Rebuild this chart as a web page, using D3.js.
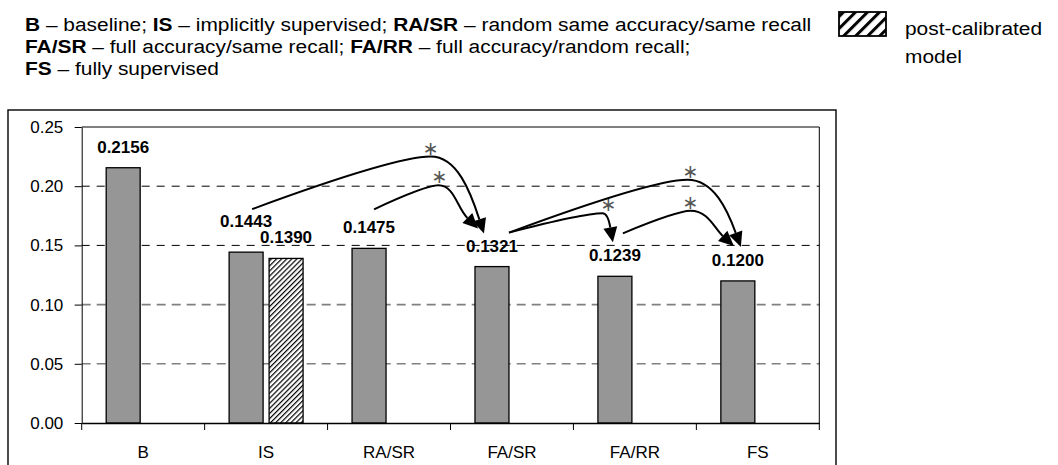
<!DOCTYPE html>
<html>
<head>
<meta charset="utf-8">
<script src="https://cdn.jsdelivr.net/npm/d3@7"></script>
<style>
  body { margin: 0; background: #fff; }
  svg { display: block; font-family: "Liberation Sans", Arial, Helvetica, sans-serif; }
</style>
</head>
<body>
<svg id="chart" width="1058" height="465"></svg>
<script>
// ---- data ----
const categories = ["B", "IS", "RA/SR", "FA/SR", "FA/RR", "FS"];
const seriesKeys = ["model", "calibrated"];
const modelValues = [0.2156, 0.1443, 0.1475, 0.1321, 0.1239, 0.1200];
const calibratedValues = [null, 0.1390, null, null, null, null];
const yTicks = [0.00, 0.05, 0.10, 0.15, 0.20, 0.25];
// statistically significant differences (marked with an asterisk)
const significantPairs = [
  ["IS", "FA/SR"],
  ["RA/SR", "FA/SR"],
  ["FA/SR", "FA/RR"],
  ["FA/SR", "FS"],
  ["FA/RR", "FS"]
];
const keyLines = [
  [["B", true], [" \u2013 baseline; ", false], ["IS", true], [" \u2013 implicitly supervised; ", false], ["RA/SR", true], [" \u2013 random same accuracy/same recall", false]],
  [["FA/SR", true], [" \u2013 full accuracy/same recall; ", false], ["FA/RR", true], [" \u2013 full accuracy/random recall;", false]],
  [["FS", true], [" \u2013 fully supervised", false]]
];
const legendLabel = ["post-calibrated", "model"];

// ---- layout ----
const plot = { left: 81.7, right: 819.3, top: 127, bottom: 423 };
const svg = d3.select("#chart");

const x = d3.scaleBand(categories, [plot.left, plot.right]);
const xs = d3.scaleBand(seriesKeys, [0, x.bandwidth()]).paddingInner(0.15).paddingOuter(0.6125);
const y = d3.scaleLinear([0, 0.25], [plot.bottom, plot.top]);

// hatch patterns
const defs = svg.append("defs");
defs.append("pattern")
  .attr("id", "hatch").attr("patternUnits", "userSpaceOnUse")
  .attr("width", 3.6).attr("height", 3.6).attr("patternTransform", "rotate(45)")
  .call(p => {
    p.append("rect").attr("width", 3.6).attr("height", 3.6).attr("fill", "#fff");
    p.append("line").attr("x1", 0.6).attr("y1", 0).attr("x2", 0.6).attr("y2", 3.6)
      .attr("stroke", "#000").attr("stroke-width", 1.2);
  });
defs.append("pattern")
  .attr("id", "hatchBig").attr("patternUnits", "userSpaceOnUse")
  .attr("width", 8.5).attr("height", 8.5).attr("patternTransform", "rotate(45)")
  .call(p => {
    p.append("rect").attr("width", 8.5).attr("height", 8.5).attr("fill", "#fff");
    p.append("line").attr("x1", 1.5).attr("y1", 0).attr("x2", 1.5).attr("y2", 8.5)
      .attr("stroke", "#000").attr("stroke-width", 3);
  });

// outer chart frame
svg.append("rect")
  .attr("x", 8).attr("y", 110).attr("width", 828).attr("height", 400)
  .attr("fill", "none").attr("stroke", "#000").attr("stroke-width", 1.4);

// key text
const key = svg.append("g").attr("font-size", 19).attr("fill", "#000")
  .attr("transform", "translate(25,0) scale(1.1,1)");
keyLines.forEach((line, i) => {
  const t = key.append("text").attr("x", 0).attr("y", 30.7 + i * 22.3);
  line.forEach(([s, b]) => t.append("tspan").attr("font-weight", b ? "bold" : "normal").text(s));
});

// legend for the hatched series
svg.append("rect").attr("x", 839).attr("y", 12).attr("width", 47).attr("height", 24)
  .attr("fill", "url(#hatchBig)").attr("stroke", "#000").attr("stroke-width", 1.8);
svg.append("g").attr("font-size", 19).attr("transform", "translate(905,0) scale(1.1,1)")
  .selectAll("text").data(legendLabel).join("text")
  .attr("x", 0).attr("y", (d, i) => 35 + i * 28).text(d => d);

// gridlines
const grid = svg.append("g");
yTicks.filter(v => v > 0 && v < 0.25).forEach(v => {
  const strong = v >= 0.15;
  grid.append("line")
    .attr("x1", plot.left).attr("x2", plot.right)
    .attr("y1", y(v)).attr("y2", y(v))
    .attr("stroke", strong ? "#000" : "#808080")
    .attr("stroke-width", strong ? 1 : 1.6)
    .attr("stroke-dasharray", strong ? "8,7" : "9,6");
});

// plot area top and right border
svg.append("path")
  .attr("d", `M${plot.left},${plot.top}H${plot.right}V${plot.bottom}`)
  .attr("fill", "none").attr("stroke", "#000").attr("stroke-width", 1);

// bars
const rows = categories.map((c, i) => ({ cat: c, model: modelValues[i], calibrated: calibratedValues[i] }));
const barData = [];
rows.forEach(r => seriesKeys.forEach(k => { if (r[k] != null) barData.push({ cat: r.cat, key: k, value: r[k], row: r }); }));

svg.append("g").selectAll("rect").data(barData).join("rect")
  .attr("x", d => x(d.cat) + xs(d.key))
  .attr("width", xs.bandwidth())
  .attr("y", d => y(d.value))
  .attr("height", d => y(0) - y(d.value))
  .attr("fill", d => d.key === "model" ? "#969696" : "url(#hatch)")
  .attr("stroke", "#000").attr("stroke-width", 1.3);

// y axis
const yAxis = svg.append("g").attr("transform", `translate(${plot.left},0)`)
  .call(d3.axisLeft(y).tickValues(yTicks).tickFormat(d3.format(".2f")).tickSize(7).tickSizeOuter(0).tickPadding(11.4));
yAxis.selectAll("text").attr("font-size", 17).attr("font-family", "Liberation Sans, Arial, sans-serif").attr("fill", "#000");
yAxis.selectAll("line,path").attr("stroke", "#000");

// x axis: labels at category centres, ticks at category boundaries
const xAxis = svg.append("g").attr("transform", `translate(0,${plot.bottom})`)
  .call(d3.axisBottom(x).tickSize(0).tickSizeOuter(0).tickPadding(23));
xAxis.select(".domain").attr("stroke", "#000").attr("stroke-width", 1.4);
xAxis.selectAll("text").attr("font-size", 17).attr("font-family", "Liberation Sans, Arial, sans-serif").attr("fill", "#000");
const bounds = categories.map(c => x(c)).concat([x.range()[1]]);
xAxis.selectAll(".bound").data(bounds).join("line").attr("class", "bound")
  .attr("x1", d => d).attr("x2", d => d).attr("y1", 0).attr("y2", 7)
  .attr("stroke", "#000").attr("stroke-width", 1);

// value labels
const labelAnchor = d => {
  const lift = (d.key === "model" && d.row.calibrated != null) ? 25 : 15;
  return { x: x(d.cat) + xs(d.key) + xs.bandwidth() / 2, y: y(d.value) - lift };
};
svg.append("g").attr("font-size", 17).attr("font-weight", "bold")
  .selectAll("text").data(barData).join("text")
  .attr("text-anchor", "middle")
  .attr("x", d => labelAnchor(d).x)
  .attr("y", d => labelAnchor(d).y)
  .text(d => d3.format(".4f")(d.value));

// significance arrows between model results
const anchorOf = c => labelAnchor(barData.find(d => d.cat === c && d.key === "model"));
const arrowShape = [
  { s: [6, -18], e: [-8, -18], peak: 0.2250, t: 0.77, angle: 72, star: 0 },
  { s: [5, -24], e: [-14, -23], peak: 0.2007, t: 0.62, angle: 45, star: 1 },
  { s: [17, -19], e: [-2, -19], peak: 0.1771, t: 0.90, angle: 80, star: 6 },
  { s: [17, -19], e: [3, -19], peak: 0.2055, t: 0.77, angle: 70, star: 3 },
  { s: [8, -28], e: [-4, -20], peak: 0.1792, t: 0.61, angle: 42, star: 0 }
];
const arrows = svg.append("g");
significantPairs.forEach(([from, to], i) => {
  const sh = arrowShape[i];
  const a = anchorOf(from), b = anchorOf(to);
  const S = [a.x + sh.s[0], a.y + sh.s[1]];
  const E = [b.x + sh.e[0], b.y + sh.e[1]];
  const P = [S[0] + sh.t * (E[0] - S[0]), y(sh.peak)];
  const th = sh.angle * Math.PI / 180, dx = Math.cos(th), dy = Math.sin(th);
  const head = 15, half = 7;
  const B = [E[0] - head * dx, E[1] - head * dy];
  const k = 0.45 * (B[1] - P[1]);
  const p = d3.path();
  p.moveTo(S[0], S[1]);
  p.quadraticCurveTo(S[0] + 0.8 * (P[0] - S[0]), P[1], P[0], P[1]);
  p.bezierCurveTo(P[0] + 0.55 * (B[0] - P[0]), P[1], B[0] - k * dx, B[1] - k * dy, B[0], B[1]);
  arrows.append("path").attr("d", p.toString())
    .attr("fill", "none").attr("stroke", "#000").attr("stroke-width", 2);
  arrows.append("path")
    .attr("d", `M${E[0]},${E[1]}L${B[0] - half * dy},${B[1] + half * dx}L${B[0] + half * dy},${B[1] - half * dx}Z`)
    .attr("fill", "#000");
  arrows.append("text")
    .attr("x", P[0] + sh.star).attr("y", P[1] - 9)
    .attr("text-anchor", "middle").attr("dominant-baseline", "central")
    .attr("font-family", "DejaVu Sans, sans-serif").attr("font-size", 19).attr("fill", "#555")
    .text("\u2217");
});
</script>
</body>
</html>
